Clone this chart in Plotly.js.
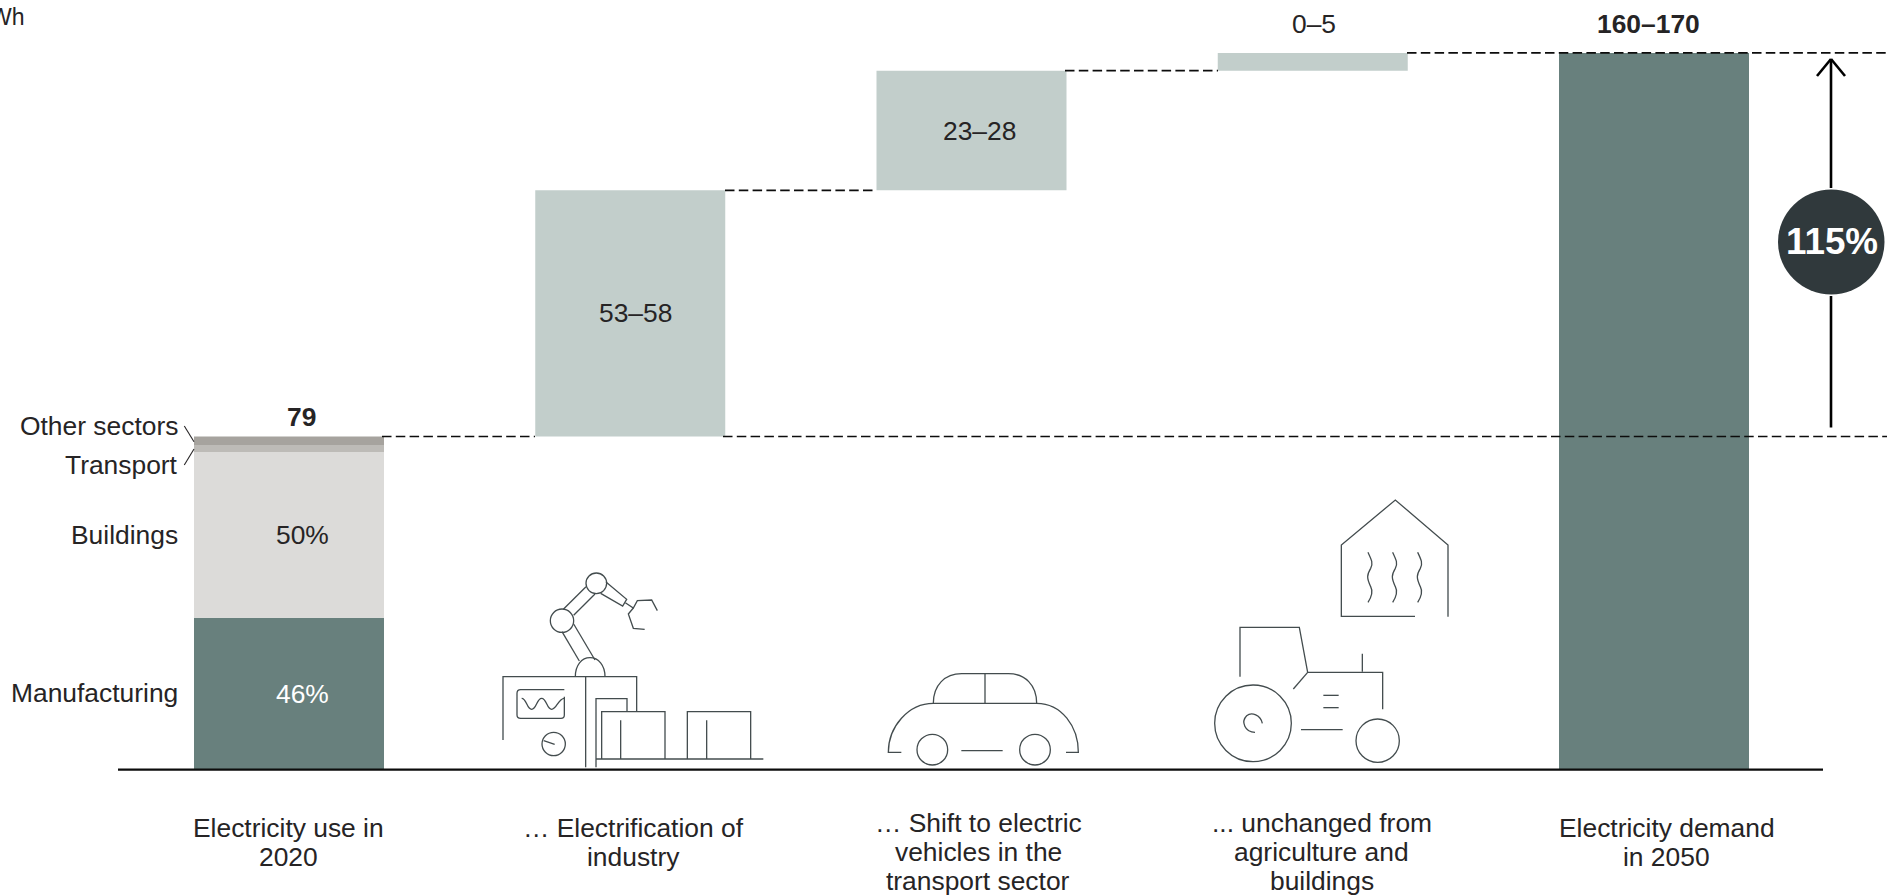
<!DOCTYPE html>
<html>
<head>
<meta charset="utf-8">
<title>Electricity demand bridge, 2020 to 2050</title>
<script src="https://cdn.plot.ly/plotly-3.0.1.min.js"></script>
<style>html,body{margin:0;padding:0;background:#fff;overflow:hidden}#chart{width:1887px;height:895px}</style>
</head>
<body>
<div id="chart"></div>
<script>
// Chart data, TWh
const categories = [
  "Electricity use in 2020",
  "Electrification of industry",
  "Shift to electric vehicles in the transport sector",
  "Unchanged from agriculture and buildings",
  "Electricity demand in 2050"
];
const sectorNames = ["Manufacturing", "Buildings", "Transport", "Other sectors"];
const sectorValues = [36.0, 39.3, 1.7, 2.0];
const sectorColors = ["#68807d", "#dcdbd9", "#bdbbb7", "#a6a39e"];
const sectorShareLabels = ["46%", "50%", "", ""];
const stepValues = [58.4, 28.4, 4.2];
const stepLabels = ["53–58", "23–28", "0–5"];
const totalValue = 170;
const startLabel = "79";
const totalLabel = "160–170";
const growthLabel = "115%";
const unitLabel = "TWh";
const axisLines = [
  ["Electricity use in", "2020"],
  ["… Electrification of", "industry"],
  ["… Shift to electric", "vehicles in the", "transport sector"],
  ["... unchanged from", "agriculture and", "buildings"],
  ["Electricity demand", "in 2050"]
];

const W = 1887, H = 895;
const FONT = "Liberation Sans, Arial, sans-serif";
const INK = "#262425";
const FS = 26.4;
const ICON = "#434c4e";

// Page-pixel helpers: the plot fills the page, so paper fractions map straight to pixels
const px = x => x / W;
const py = y => 1 - y / H;

// Axis geometry: zero sits on the baseline, bars repeat every 341.25px
const unitPx = 4.215, baseY = 769.5, slotPx = 341.25, firstX = 289;
const yRange = [-(H - baseY) / unitPx, baseY / unitPx];
const xRange = [-firstX / slotPx, (W - firstX) / slotPx];
const barWidth = 190 / slotPx;

// Running totals for the bridge
const startTotal = sectorValues.reduce((a, b) => a + b, 0);
const levels = [startTotal];
stepValues.forEach(v => levels.push(levels[levels.length - 1] + v));

const traces = [];
let running = 0;
sectorValues.forEach((v, i) => {
  traces.push({type: "bar", name: sectorNames[i], x: [categories[0]], y: [v], base: [running],
    width: barWidth, marker: {color: sectorColors[i], line: {width: 0}}, hoverinfo: "skip"});
  running += v;
});
traces.push({type: "bar", name: "Increase", x: categories.slice(1, 4), y: stepValues,
  base: levels.slice(0, 3), width: barWidth,
  marker: {color: "#c2cecb", line: {width: 0}}, hoverinfo: "skip"});
traces.push({type: "bar", name: "2050", x: [categories[4]], y: [totalValue], base: [0],
  width: barWidth, marker: {color: "#68807d", line: {width: 0}}, hoverinfo: "skip"});

const shapes = [];
const line = (x0, y0, x1, y1, color, width, dash) => shapes.push({type: "line", xref: "paper", yref: "paper",
  x0: px(x0), y0: py(y0), x1: px(x1), y1: py(y1), line: {color, width, dash: dash || "solid"}});
const connector = (x0, x1, level) => shapes.push({type: "line", xref: "paper", yref: "y",
  x0: px(x0), x1: px(x1), y0: level, y1: level, line: {color: "#0c0c0c", width: 1.7, dash: "9.5px,4.3px"}});

// Baseline and dashed connectors
line(118, 769.7, 1823, 769.7, "#0c0c0c", 2.2);
connector(382, 535, levels[0]);
connector(723, W, levels[0]);
connector(725, 876, levels[1]);
connector(1065, 1218, levels[2]);
connector(1407, W, totalValue);

// Leader lines for the two thin segments
line(184.3, 426, 194, 441.7, INK, 1.1);
line(184.3, 465, 194, 449, INK, 1.1);

// Growth arrow and badge
line(1831, 427.5, 1831, 296, "#000", 2.6);
line(1831, 188, 1831, 59, "#000", 2.6);
line(1817, 76, 1831, 59, "#000", 2.6);
line(1845, 76, 1831, 59, "#000", 2.6);
shapes.push({type: "circle", xref: "paper", yref: "paper", x0: px(1778), x1: px(1884.5), y0: py(189.5), y1: py(294.5),
  fillcolor: "#30393c", line: {width: 0}});

// Line-art icons, drawn in a 3x local grid and placed by an origin on the page
function iconSet(ox, oy, paths, circles) {
  paths.forEach(d => {
    let isX = true;
    const out = d.replace(/-?\d+(\.\d+)?/g, n => {
      const v = isX ? px(ox + n / 3) : py(oy + n / 3);
      isX = !isX;
      return v.toFixed(6);
    });
    shapes.push({type: "path", xref: "paper", yref: "paper", path: out, line: {color: ICON, width: 1.3}});
  });
  circles.forEach(([cx, cy, r]) => shapes.push({type: "circle", xref: "paper", yref: "paper",
    x0: px(ox + (cx - r) / 3), x1: px(ox + (cx + r) / 3), y0: py(oy + (cy - r) / 3), y1: py(oy + (cy + r) / 3),
    line: {color: ICON, width: 1.3}}));
}

// Industrial robot
iconSet(480, 550, [
  "M286 380 C286 345 305 323 330 323 C355 323 375 345 375 380",
  "M69 570 L69 380 L470 380 L470 485",
  "M317 380 L317 652",
  "M246 245 L298 333", "M281 222 L345 330",
  "M250 178 L318 110", "M281 196 L345 132",
  "M378 96 L440 148 L428 168 L362 130",
  "M436 158 L460 174 L472 152 L515 150 L532 182",
  "M460 174 L445 192 L460 235 L494 238",
  "M253 419 L122 419 Q111 419 111 430 L111 495 Q111 505 122 505 L243 505 Q253 505 253 495 L253 440",
  "M125 445 C140 445 140 478 155 478 C170 478 170 445 185 445 C200 445 200 478 215 478 C230 478 235 445 253 445",
  "M191 572 L224 583",
  "M348 652 L348 446 L441 446 L441 485",
  "M365 627 L365 485 L555 485 L555 627", "M422 511 L422 627",
  "M622 627 L622 485 L812 485 L812 627", "M680 511 L680 627",
  "M348 627 L850 627"
], [[246, 212, 35], [349, 100, 31], [221, 582, 35]]);

// Car
iconSet(860, 650, [
  "M124 307 L85 307 C85 230 145 160 220 160 L530 160 C605 160 655 230 655 307 L618 307",
  "M220 160 C220 105 255 71 305 71 L445 71 C495 71 530 105 530 160",
  "M375 71 L375 160",
  "M304 302 L428 302"
], [[217, 299, 46], [525, 299, 46]]);

// Greenhouse and tractor
iconSet(1190, 480, [
  "M675 409 L454 409 L454 195 L616 60 L774 195 L774 410",
  "M534 217 C545 240 550 250 542 265 C530 285 530 295 542 320 C550 335 545 350 534 367",
  "M608 217 C619 240 624 250 616 265 C604 285 604 295 616 320 C624 335 619 350 608 367",
  "M683 217 C694 240 699 250 691 265 C679 285 679 295 691 320 C699 335 694 350 683 367",
  "M150 590 L150 442 L328 442 L353 577 L578 577 L578 688",
  "M353 577 L310 627",
  "M517 521 L517 575",
  "M400 646 L446 646", "M400 683 L446 683", "M333 749 L458 749",
  "M217 730 C212 705 185 695 170 707 C152 725 165 757 195 757"
], [[189, 730, 115], [563, 782, 65]]);

// Text
const annotations = [];
const textAt = (x, y, text, opts = {}) => annotations.push(Object.assign({
  xref: "paper", yref: "paper", x: px(x), y: py(y), text, showarrow: false,
  xanchor: "center", yanchor: "middle", align: "center", borderpad: 0,
  font: {family: FONT, size: FS, color: INK}
}, opts));
const barText = (cat, value, text, xshift, yshift, opts = {}) => annotations.push(Object.assign({
  xref: "x", yref: "y", x: cat, y: value, text, showarrow: false, xshift, yshift,
  xanchor: "center", yanchor: "middle", align: "center", borderpad: 0,
  font: {family: FONT, size: FS, color: INK}
}, opts));

// Sector names, right-aligned beside the first bar
[[sectorNames[3], 426], [sectorNames[2], 465], [sectorNames[1], 535], [sectorNames[0], 693]].forEach(([t, y]) =>
  textAt(179, y, t, {xanchor: "right", align: "right"}));

// Shares inside the first bar
let mid = 0;
sectorValues.forEach((v, i) => {
  if (sectorShareLabels[i]) {
    const f = {family: FONT, size: FS, color: i === 0 ? "#ffffff" : INK};
    barText(categories[0], mid + v / 2, sectorShareLabels[i], 13, 0, {font: f});
  }
  mid += v;
});

const bold = {family: FONT, size: FS, color: INK, weight: 700};
barText(categories[0], startTotal, "<b>" + startLabel + "</b>", 12, 20, {font: bold});
barText(categories[1], levels[0] + stepValues[0] / 2, stepLabels[0], 5, 0);
barText(categories[2], levels[1] + stepValues[1] / 2, stepLabels[1], 8, 0);
barText(categories[3], totalValue, stepLabels[2], 1, 29);
barText(categories[4], totalValue, "<b>" + totalLabel + "</b>", -6, 29, {font: bold});

// Unit label, running off the left edge
textAt(25.5, 16.5, unitLabel, {xanchor: "right", align: "right", font: {family: FONT, size: 23, color: INK}});

// Growth badge text
textAt(1832, 241.5, "<b>" + growthLabel + "</b>", {font: {family: FONT, size: 36.8, color: "#ffffff"}});

// Category captions, one annotation per line for tight leading
const captionShift = [-0.5, 3.5, 6.5, 9, 12.5];
axisLines.forEach((lines, i) => {
  const startY = lines.length === 3 ? 823 : 828;
  lines.forEach((t, j) => {
    annotations.push({xref: "x", yref: "paper", x: categories[i], y: py(startY + j * 28.9), text: t,
      showarrow: false, xshift: captionShift[i], xanchor: "center", yanchor: "middle", borderpad: 0,
      font: {family: FONT, size: FS, color: INK}});
  });
});

const layout = {
  width: W, height: H,
  margin: {l: 0, r: 0, t: 0, b: 0, pad: 0},
  paper_bgcolor: "#fff", plot_bgcolor: "#fff",
  showlegend: false,
  barmode: "overlay",
  font: {family: FONT, size: FS, color: INK},
  xaxis: {type: "category", categoryorder: "array", categoryarray: categories, range: xRange,
    showgrid: false, zeroline: false, showline: false, showticklabels: false, ticks: ""},
  yaxis: {range: yRange, showgrid: false, zeroline: false, showline: false, showticklabels: false, ticks: ""},
  shapes, annotations
};

Plotly.newPlot("chart", traces, layout, {displayModeBar: false, staticPlot: true});
</script>
</body>
</html>
